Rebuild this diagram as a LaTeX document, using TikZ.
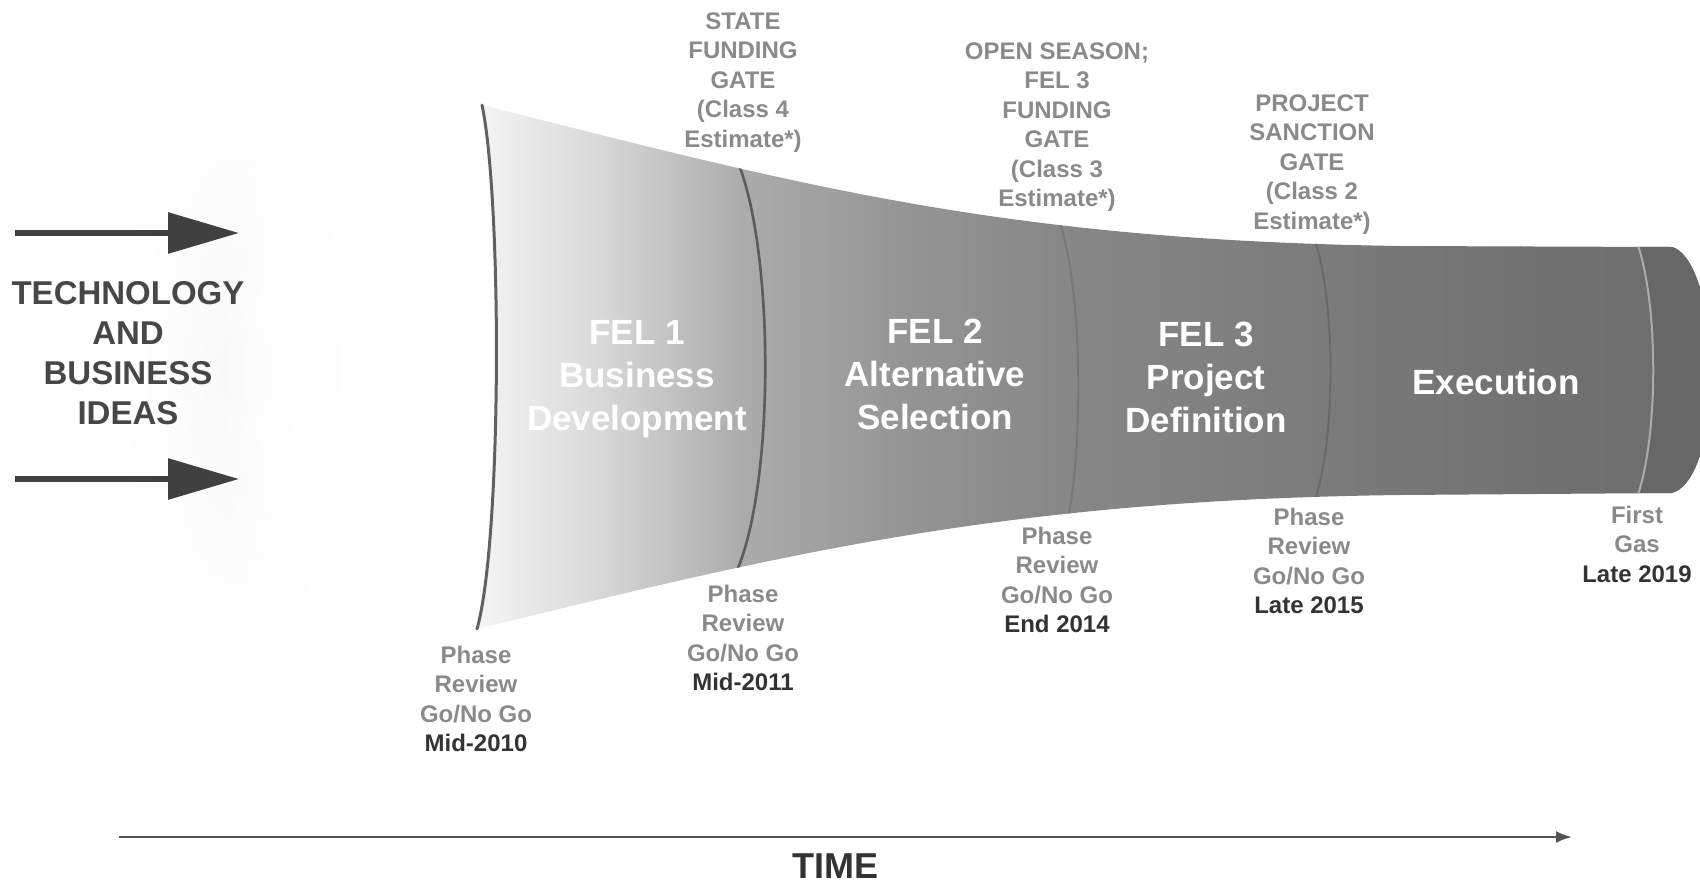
\documentclass[tikz,border=0pt]{standalone}
\usepackage{fontspec}
\setmainfont{Liberation Sans}
\usetikzlibrary{arrows.meta,fadings}
\definecolor{lbl}{HTML}{8A8A8A}
\definecolor{dark}{HTML}{333333}
\definecolor{ideac}{HTML}{474747}
\definecolor{arrowc}{HTML}{404040}
\definecolor{c0}{HTML}{F6F6F6}
\definecolor{c1}{HTML}{D8D8D8}
\definecolor{c2}{HTML}{ACACAC}
\definecolor{c3}{HTML}{959595}
\definecolor{c4}{HTML}{878787}
\definecolor{c5}{HTML}{7C7C7C}
\definecolor{c6}{HTML}{727272}
\definecolor{c7}{HTML}{6C6C6C}
\definecolor{capc}{HTML}{676767}
\tikzfading[name=softedge, inner color=transparent!0, outer color=transparent!100]
\begin{document}
\begin{tikzpicture}[x=1pt,y=-1pt,
  gatelbl/.style={align=center, inner sep=0pt, anchor=north, text=lbl,
    font=\fontsize{24}{29.5}\selectfont\bfseries},
  fellbl/.style={align=center, inner sep=0pt, anchor=north, text=white,
    font=\fontsize{35}{43}\selectfont\bfseries},
  idealbl/.style={align=center, inner sep=0pt, anchor=north, text=ideac,
    font=\fontsize{33}{40}\selectfont\bfseries},
  bigarrow/.style={draw=arrowc, line width=6pt, -{Triangle[length=71pt,width=40pt]}},
  timearrow/.style={draw=arrowc!90, line width=2.5pt, -{Latex[length=16pt,width=12pt]}},
  gateline/.style={line width=2.6pt}]
\useasboundingbox (0,0) rectangle (1700,884);
\clip (0,0) rectangle (1700,884);

% faint haze on the left
\fill[gray!5, path fading=softedge] (230,370) ellipse [x radius=110, y radius=360];
\fill[white, path fading=softedge] (320,370) ellipse [x radius=110, y radius=300];

\def\funnelpath{(482,105) .. controls (800,185) and (1000,240) .. (1400,246)
  -- (1672,247) .. controls (1700,255) and (1712,330) .. (1712,370)
  .. controls (1712,420) and (1700,485) .. (1672,493)
  -- (1400,495) .. controls (1000,500) and (780,555) .. (477,629)
  .. controls (502,540) and (502,200) .. (482,105) -- cycle}

% funnel body
\begin{scope}
  \clip \funnelpath;
  \shade[left color=c0,right color=c1] (470,90) rectangle (601,640);
  \shade[left color=c1,right color=c2] (600,90) rectangle (741,640);
  \shade[left color=c2,right color=c3] (740,90) rectangle (901,640);
  \shade[left color=c3,right color=c4] (900,90) rectangle (1061,640);
  \shade[left color=c4,right color=c5] (1060,90) rectangle (1301,640);
  \shade[left color=c5,right color=c6] (1300,90) rectangle (1521,640);
  \shade[left color=c6,right color=c7] (1520,90) rectangle (1720,640);
  \fill[capc] (1636,240) .. controls (1659,300) and (1659,440) .. (1636,500)
     -- (1720,500) -- (1720,240) -- cycle;
  \draw[gateline, draw=c7!85!black] (737,160) .. controls (775,250) and (775,490) .. (735,575);
  \draw[gateline, draw=c4!88!black, line width=2pt] (1059,220) .. controls (1083,290) and (1083,440) .. (1068,520);
  \draw[gateline, draw=c5!85!black, line width=2pt] (1314,238) .. controls (1336,300) and (1336,440) .. (1314,503);
  \draw[gateline, draw=gray!65, line width=2pt] (1636,240) .. controls (1659,300) and (1659,440) .. (1636,500);
\end{scope}
% left rim of the funnel
\draw[line width=3pt, draw=c7!90!black, line cap=round] (477,629) .. controls (502,540) and (502,200) .. (482,105);

% phase labels in the funnel
\node[fellbl] (fel1) at (637,320.5) {FEL 1\\Business\\Development};
\node[fellbl] (fel2) at (935,318.5) {FEL 2\\Alternative\\Selection};
\node[fellbl] (fel3) at (1206,321.5) {FEL 3\\Project\\Definition};
\node[fellbl] (exec) at (1496,368.5) {Execution};

% gates above
\node[gatelbl] (gate1) at (743,12.5) {STATE\\FUNDING\\GATE\\(Class 4\\Estimate*)};
\node[gatelbl] (gate2) at (1057,42.4) {OPEN SEASON;\\FEL 3\\FUNDING\\GATE\\(Class 3\\Estimate*)};
\node[gatelbl] (gate3) at (1312,94.4) {PROJECT\\SANCTION\\GATE\\(Class 2\\Estimate*)};

% phase reviews below
\node[gatelbl] (rev1) at (476,645.4) {Phase\\Review\\Go/No Go\\\textcolor{dark}{Mid-2010}};
\node[gatelbl] (rev2) at (743,584.4) {Phase\\Review\\Go/No Go\\\textcolor{dark}{Mid-2011}};
\node[gatelbl] (rev3) at (1057,526.4) {Phase\\Review\\Go/No Go\\\textcolor{dark}{End 2014}};
\node[gatelbl] (rev4) at (1309,507.4) {Phase\\Review\\Go/No Go\\\textcolor{dark}{Late 2015}};
\node[gatelbl] (gas) at (1637,505.4) {First\\Gas\\\textcolor{dark}{Late 2019}};

% ideas
\node[idealbl] (ideas) at (128,281) {TECHNOLOGY\\AND\\BUSINESS\\IDEAS};
\coordinate (a1s) at (15,233);
\coordinate (a1e) at (239,233);
\coordinate (a2s) at (15,479);
\coordinate (a2e) at (239,479);
\draw[bigarrow] (a1s) -- (a1e);
\draw[bigarrow] (a2s) -- (a2e);

% time axis
\coordinate (ts) at (119,837);
\coordinate (te) at (1572,837);
\draw[timearrow] (ts) -- (te);
\node[inner sep=0pt, anchor=north, text=dark, font=\fontsize{36}{40}\selectfont\bfseries] (time) at (835,854) {TIME};
\end{tikzpicture}
\end{document}
